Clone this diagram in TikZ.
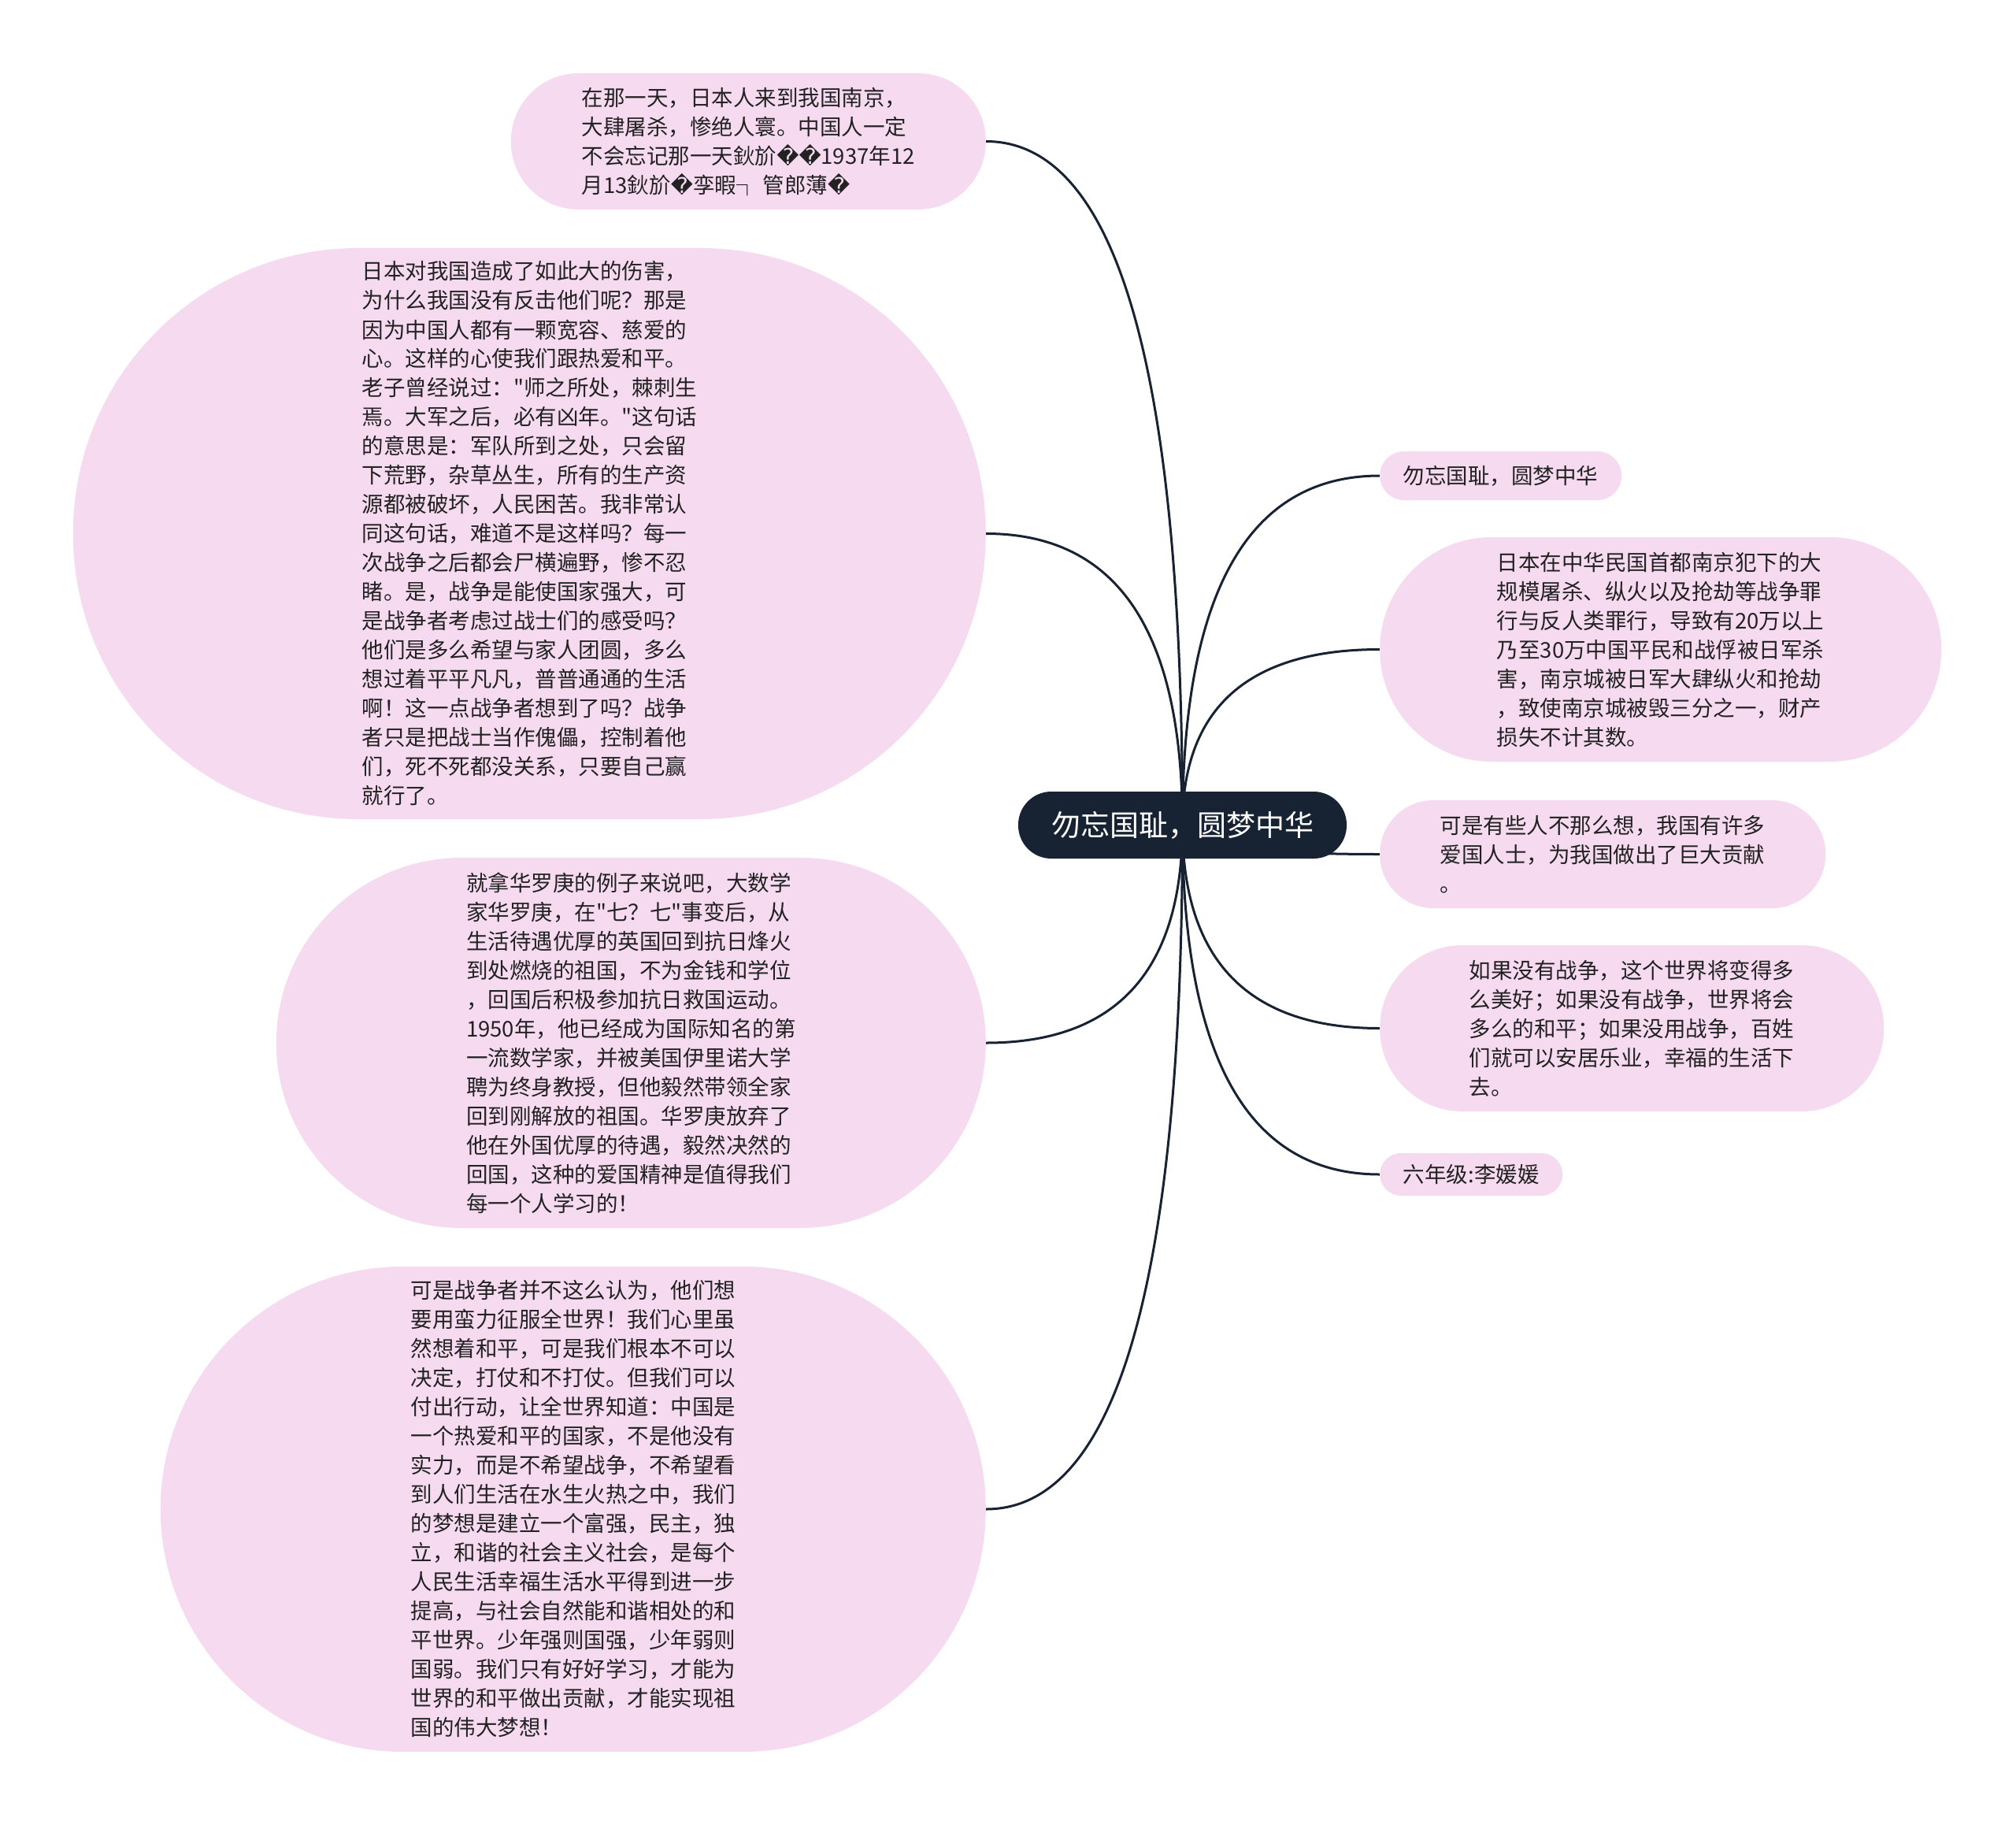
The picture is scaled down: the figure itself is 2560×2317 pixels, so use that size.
\documentclass[tikz,border=0pt]{standalone}
\usepackage{fontspec}
\setmainfont{Noto Sans CJK SC}[Ligatures=TeXOff]
\newfontfamily\dvfont{DejaVu Sans}
\usetikzlibrary{calc}
\definecolor{pinkfill}{RGB}{245,218,240}
\definecolor{rootfill}{RGB}{23,34,51}
\definecolor{txt}{RGB}{34,34,34}
\newcommand{\repch}{{\dvfont\char"FFFD}}
\pgfdeclarelayer{bg}
\pgfsetlayers{bg,main}
\begin{document}
\begin{tikzpicture}[x=1pt,y=-1pt,
  pill/.style={fill=pinkfill, draw=none, text=txt, align=left, inner sep=0pt,
    font=\fontsize{27.5}{37}\selectfont},
  conn/.style={draw=rootfill, line width=3pt},
]
\useasboundingbox (0,0) rectangle (2560,2317);

% root
\node[fill=rootfill, text=white, inner sep=0pt, minimum width=417, minimum height=85,
  rounded corners=42pt, font=\fontsize{37}{44}\selectfont] (root) at (1501.5,1047.5) {勿忘国耻，圆梦中华};

% left children
\node[pill, anchor=east, minimum width=603, minimum height=173, rounded corners=86pt] (t1) at (1252,179.5)
{在那一天，日本人来到我国南京，\\大肆屠杀，惨绝人寰。中国人一定\\不会忘记那一天鈥斺\repch\repch1937年12\\月13鈥斺\repch 孪暇┐ 管郎薄\repch};

\node[pill, anchor=east, minimum width=1159, minimum height=725, rounded corners=362pt] (t2) at (1252,677.5)
{日本对我国造成了如此大的伤害，\\为什么我国没有反击他们呢？那是\\因为中国人都有一颗宽容、慈爱的\\心。这样的心使我们跟热爱和平。\\老子曾经说过："师之所处，棘刺生\\焉。大军之后，必有凶年。"这句话\\的意思是：军队所到之处，只会留\\下荒野，杂草丛生，所有的生产资\\源都被破坏，人民困苦。我非常认\\同这句话，难道不是这样吗？每一\\次战争之后都会尸横遍野，惨不忍\\睹。是，战争是能使国家强大，可\\是战争者考虑过战士们的感受吗？\\他们是多么希望与家人团圆，多么\\想过着平平凡凡，普普通通的生活\\啊！这一点战争者想到了吗？战争\\者只是把战士当作傀儡，控制着他\\们，死不死都没关系，只要自己赢\\就行了。};

\node[pill, anchor=east, minimum width=901, minimum height=470, rounded corners=235pt] (t3) at (1252,1324)
{就拿华罗庚的例子来说吧，大数学\\家华罗庚，在"七？七"事变后，从\\生活待遇优厚的英国回到抗日烽火\\到处燃烧的祖国，不为金钱和学位\\，回国后积极参加抗日救国运动。\\1950年，他已经成为国际知名的第\\一流数学家，并被美国伊里诺大学\\聘为终身教授，但他毅然带领全家\\回到刚解放的祖国。华罗庚放弃了\\他在外国优厚的待遇，毅然决然的\\回国，这种的爱国精神是值得我们\\每一个人学习的！};

\node[pill, anchor=east, minimum width=1048, minimum height=616, rounded corners=308pt] (t4) at (1252,1916)
{可是战争者并不这么认为，他们想\\要用蛮力征服全世界！我们心里虽\\然想着和平，可是我们根本不可以\\决定，打仗和不打仗。但我们可以\\付出行动，让全世界知道：中国是\\一个热爱和平的国家，不是他没有\\实力，而是不希望战争，不希望看\\到人们生活在水生火热之中，我们\\的梦想是建立一个富强，民主，独\\立，和谐的社会主义社会，是每个\\人民生活幸福生活水平得到进一步\\提高，与社会自然能和谐相处的和\\平世界。少年强则国强，少年弱则\\国弱。我们只有好好学习，才能为\\世界的和平做出贡献，才能实现祖\\国的伟大梦想！};

% right children
\node[pill, anchor=west, minimum width=307, minimum height=62, rounded corners=31pt] (r1) at (1752,604)
{勿忘国耻，圆梦中华};

\node[pill, anchor=west, minimum width=713, minimum height=285, rounded corners=142pt] (r2) at (1752,824.5)
{日本在中华民国首都南京犯下的大\\规模屠杀、纵火以及抢劫等战争罪\\行与反人类罪行，导致有20万以上\\乃至30万中国平民和战俘被日军杀\\害，南京城被日军大肆纵火和抢劫\\，致使南京城被毁三分之一，财产\\损失不计其数。};

\node[pill, anchor=west, minimum width=566, minimum height=137, rounded corners=68pt] (r3) at (1752,1084.5)
{可是有些人不那么想，我国有许多\\爱国人士，为我国做出了巨大贡献\\。};

\node[pill, anchor=west, minimum width=640, minimum height=211, rounded corners=105pt] (r4) at (1752,1305.5)
{如果没有战争，这个世界将变得多\\么美好；如果没有战争，世界将会\\多么的和平；如果没用战争，百姓\\们就可以安居乐业，幸福的生活下\\去。};

\node[pill, anchor=west, minimum width=232, minimum height=54, rounded corners=27pt] (r5) at (1752,1491)
{六年级:李媛媛};

% connectors
\begin{pgfonlayer}{bg}
\foreach \c/\a in {t1/east,t2/east,t3/east,t4/east,r1/west,r2/west,r3/west,r4/west,r5/west}{
  \coordinate (k-\c) at (root.center |- \c.\a);
  \draw[conn] (root.center) .. controls ($(root.center)!0.6667!(k-\c)$) and ($(\c.\a)!0.6667!(k-\c)$) .. (\c.\a);
}
\end{pgfonlayer}
\end{tikzpicture}
\end{document}
